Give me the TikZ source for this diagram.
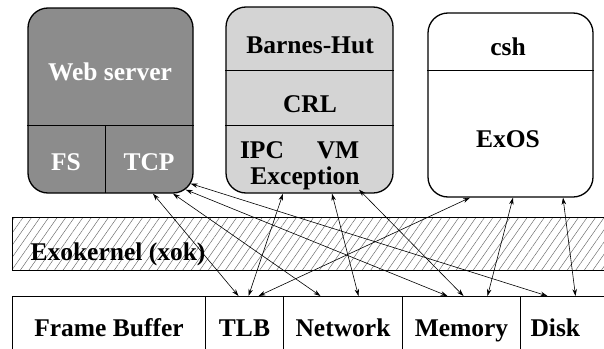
\documentclass[tikz,border=0pt]{standalone}
\usepackage{fontspec}
\setmainfont{LiberationSerif}[Extension=.ttf,UprightFont=*-Regular,BoldFont=*-Bold,ItalicFont=*-Italic,BoldItalicFont=*-BoldItalic]
\usetikzlibrary{arrows.meta,patterns.meta}

\begin{document}
\begin{tikzpicture}[x=1pt,y=-1pt,
  font=\fontsize{25.5}{29}\selectfont\bfseries,
  box/.style={draw,line width=1.3pt,rounded corners=20pt,inner sep=0pt},
  lbl/.style={anchor=base,inner sep=0pt},
  cell/.style={draw,line width=1pt,inner sep=0pt,anchor=north west,minimum height=68pt,text height=17pt,text depth=5pt},
  link/.style={<->,>={Stealth[length=7pt,width=4.5pt]},line width=0.6pt}]
\useasboundingbox (0,0) rectangle (604,348);

% applications
\node[box,fill=black!45,minimum width=165pt,minimum height=185pt] (web) at (110.5,100.5) {};
\node[box,fill=black!17,minimum width=167pt,minimum height=186pt] (crl) at (309.5,100) {};
\node[box,fill=white,minimum width=165pt,minimum height=184pt] (exos) at (510.5,105) {};
\draw[line width=0.7pt] (web.west |- 0,125) -- (web.east |- 0,125);
\draw[line width=0.7pt] (105,125) -- (105,193);
\draw[line width=0.7pt] (crl.west |- 0,70) -- (crl.east |- 0,70);
\draw[line width=0.7pt] (crl.west |- 0,125) -- (crl.east |- 0,125);
\draw[line width=0.7pt] (exos.west |- 0,70) -- (exos.east |- 0,70);
\node[lbl,text=white] (wslabel) at (110,80) {Web server};
\node[lbl,text=white] (fs) at (66,170) {FS};
\node[lbl,text=white] (tcp) at (149,170) {TCP};
\node[lbl] (bh) at (310,53) {Barnes-Hut};
\node[lbl] (crllabel) at (310,112) {CRL};
\node[lbl] (ipc) at (262,158) {IPC};
\node[lbl] (vm) at (338,158) {VM};
\node[lbl] (exc) at (305,184) {Exception};
\node[lbl] (csh) at (508,55) {csh};
\node[lbl] (exoslabel) at (508,147) {ExOS};

% kernel
\node[draw,line width=1.2pt,inner sep=0pt,anchor=north west,minimum width=600pt,minimum height=53pt,
  pattern={Lines[angle=55,distance=7pt,line width=0.45pt]},pattern color=black!60] (xok) at (12,217) {};
\node[lbl] (xoklabel) at (118,260) {Exokernel (xok)};

% hardware
\node[cell,minimum width=193pt] (fb) at (12,296) {Frame Buffer};
\node[cell,minimum width=78pt] (tlb) at (205,296) {TLB};
\node[cell,minimum width=119pt] (net) at (283,296) {Network};
\node[cell,minimum width=118pt] (mem) at (402,296) {Memory};
\node[cell,minimum width=100pt,text width=80pt,align=left,inner xsep=10pt] (disk) at (520,296) {Disk};

% bindings
\path[draw,link] ([xshift=42.5pt]web.south) -- ([xshift=-6pt]tlb.north);
\path[draw,link] ([xshift=62.5pt]web.south) -- ([xshift=-22.5pt]net.north);
\path[draw,link] ([xshift=-8pt,yshift=4pt]web.south east) -- ([xshift=-14pt]mem.north);
\path[draw,link] ([xshift=-3pt,yshift=10pt]web.south east) -- ([xshift=-23pt]disk.north);
\path[draw,link] ([xshift=-26.5pt]crl.south) -- ([xshift=4pt]tlb.north);
\path[draw,link] ([xshift=22.5pt]crl.south) -- ([xshift=15.5pt]net.north);
\path[draw,link] ([xshift=49.5pt,yshift=4pt]crl.south) -- ([xshift=2pt]mem.north);
\path[draw,link] ([xshift=-40.5pt]exos.south) -- ([xshift=14pt]tlb.north);
\path[draw,link] ([xshift=2.5pt]exos.south) -- ([xshift=26pt]mem.north);
\path[draw,link] ([xshift=52.5pt]exos.south) -- ([xshift=5pt]disk.north);
\end{tikzpicture}
\end{document}
